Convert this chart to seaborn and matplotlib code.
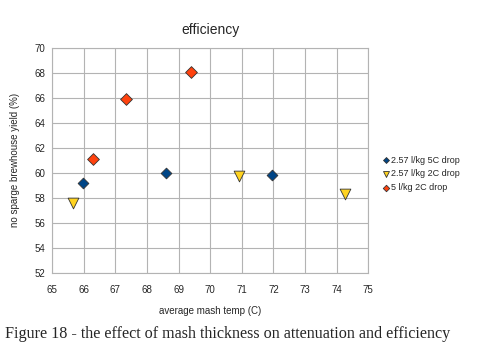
import pandas as pd
import matplotlib
matplotlib.use('Agg')
import matplotlib.pyplot as plt
import seaborn as sns

series_names = ['2.57 l/kg 5C drop', '2.57 l/kg 2C drop', '5 l/kg 2C drop']
temp_5c = [65.97, 68.6, 71.95]
yield_5c = [59.2, 60.0, 59.8]
temp_257_2c = [65.65, 70.9, 74.25]
yield_257_2c = [57.6, 59.75, 58.3]
temp_5_2c = [66.3, 67.35, 69.4]
yield_5_2c = [61.1, 65.9, 68.05]

def build_df():
    rows = []
    for name, xs, ys in zip(series_names,
                            [temp_5c, temp_257_2c, temp_5_2c],
                            [yield_5c, yield_257_2c, yield_5_2c]):
        for x, y in zip(xs, ys):
            rows.append({'temp': x, 'yield': y, 'series': name})
    return pd.DataFrame(rows)

def main():
    df = build_df()
    sns.set_style('whitegrid')
    plt.rcParams['font.family'] = ['Liberation Sans', 'DejaVu Sans']

    fig = plt.figure(figsize=(5.01, 3.6), dpi=100)
    ax = fig.add_axes([0.104, 0.242, 0.631, 0.625])
    palette = {series_names[0]: '#004586', series_names[1]: '#FFD320', series_names[2]: '#FF420E'}
    markers = {series_names[0]: 'D', series_names[1]: 'v', series_names[2]: 'D'}
    sizes = {series_names[0]: 30, series_names[1]: 60, series_names[2]: 36}
    for name in series_names:
        sub = df[df['series'] == name]
        sns.scatterplot(data=sub, x='temp', y='yield', ax=ax, color=palette[name],
                        marker=markers[name], s=sizes[name], edgecolor='#333333',
                        linewidth=0.6, label=name, zorder=3)

    ax.set_xlim(65, 75)
    ax.set_ylim(52, 70)
    ax.set_xticks(range(65, 76))
    ax.set_yticks(range(52, 71, 2))
    ax.grid(True, color='#b3b3b3', linewidth=0.8)
    for s in ax.spines.values():
        s.set_color('#b3b3b3')
        s.set_linewidth(0.8)
    ax.tick_params(axis='both', labelsize=7, length=3, color='#b3b3b3', pad=2, direction='out')
    ax.tick_params(axis='x', pad=6)
    ax.set_xlabel('average mash temp (C)', fontsize=7, labelpad=8)
    ax.set_ylabel('no sparge brewhouse yield (%)', fontsize=7, labelpad=10)
    ax.set_title('efficiency', fontsize=10, pad=10)

    leg = ax.legend(loc='center left', bbox_to_anchor=(1.03, 0.44), frameon=False,
                    fontsize=6.5, handletextpad=0.1, labelspacing=0.5, markerscale=0.55,
                    handlelength=1.0, borderaxespad=0)

    fig.text(0.01, 0.06, 'Figure 18 - the effect of mash thickness on attenuation and efficiency',
             family=['Liberation Serif', 'DejaVu Serif'], fontsize=11.6)

    fig.savefig('out.png', dpi=100)

if __name__ == "__main__":
    main()
